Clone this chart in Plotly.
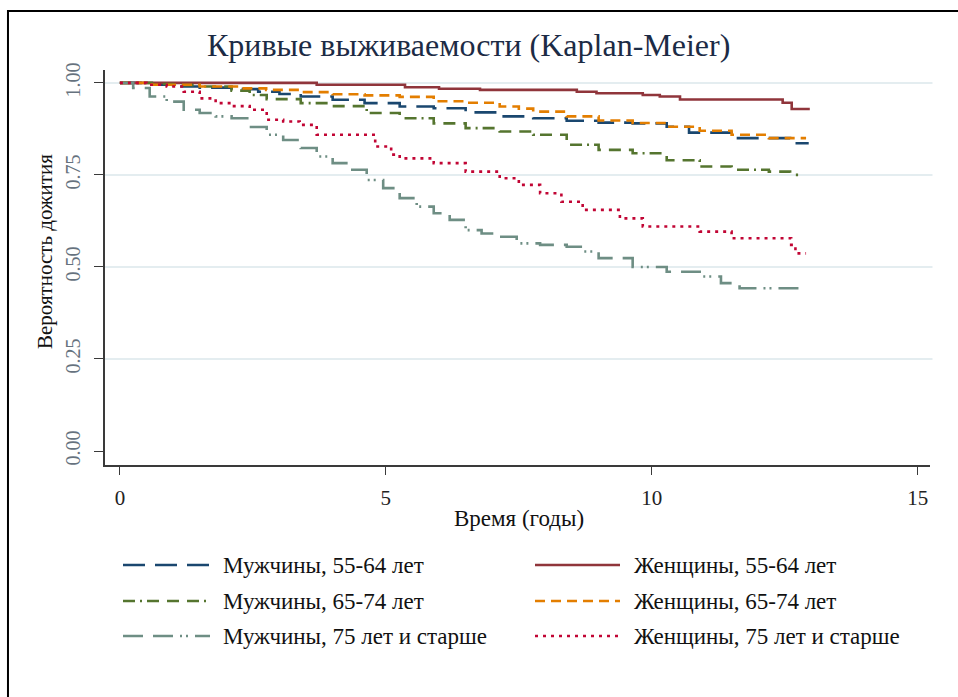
import plotly.graph_objects as go

# Kaplan-Meier step estimates (time in years, survival probability)
t_m55 = [0, 0.5, 1.0, 1.5, 2.1, 2.6, 3.0, 3.4, 4.0, 4.6, 5.26, 5.9, 6.5, 7.14, 7.77, 8.4, 9.0, 9.64, 10.28, 10.7, 11.5, 12.2, 12.6, 12.95]
s_m55 = [1.0, 0.995, 0.99, 0.987, 0.983, 0.976, 0.97, 0.963, 0.954, 0.945, 0.936, 0.931, 0.92, 0.909, 0.904, 0.897, 0.892, 0.89, 0.881, 0.865, 0.85, 0.85, 0.836, 0.836]

t_w55 = [0, 3.7, 5.36, 6.0, 6.77, 8.59, 8.96, 9.83, 10.15, 10.53, 12.46, 12.63, 12.97]
s_w55 = [1.0, 0.995, 0.988, 0.984, 0.981, 0.976, 0.972, 0.967, 0.963, 0.955, 0.946, 0.929, 0.929]

t_m65 = [0, 0.6, 1.0, 1.5, 2.1, 2.44, 2.76, 3.4, 4.0, 4.64, 5.26, 5.9, 6.5, 7.14, 7.77, 8.4, 9.0, 9.64, 10.28, 10.9, 11.5, 12.2, 12.6, 12.75]
s_m65 = [1.0, 0.997, 0.994, 0.99, 0.979, 0.967, 0.956, 0.945, 0.937, 0.918, 0.904, 0.89, 0.877, 0.868, 0.859, 0.832, 0.818, 0.809, 0.79, 0.773, 0.764, 0.759, 0.75, 0.75]

t_w65 = [0, 0.6, 1.5, 2.2, 2.75, 3.4, 4.0, 4.6, 5.26, 5.9, 6.5, 7.14, 7.5, 7.77, 8.4, 9.0, 9.64, 10.28, 10.9, 11.5, 12.2, 12.9]
s_w65 = [1.0, 0.995, 0.99, 0.985, 0.981, 0.975, 0.969, 0.966, 0.962, 0.95, 0.946, 0.936, 0.93, 0.922, 0.909, 0.898, 0.891, 0.881, 0.87, 0.859, 0.85, 0.85]

t_m75 = [0, 0.25, 0.56, 0.88, 1.2, 1.5, 1.8, 2.1, 2.44, 2.76, 3.07, 3.4, 3.7, 4.0, 4.3, 4.64, 4.95, 5.26, 5.58, 5.9, 6.2, 6.5, 6.8, 7.14, 7.46, 7.9, 8.4, 8.7, 9.0, 9.64, 10.28, 10.9, 11.3, 11.65, 12.9]
s_m75 = [1.0, 0.986, 0.963, 0.949, 0.927, 0.918, 0.909, 0.904, 0.88, 0.859, 0.845, 0.823, 0.8, 0.782, 0.764, 0.736, 0.714, 0.687, 0.664, 0.646, 0.628, 0.6, 0.591, 0.582, 0.564, 0.56, 0.555, 0.542, 0.524, 0.5, 0.487, 0.474, 0.456, 0.442, 0.442]

t_w75 = [0, 0.5, 0.88, 1.2, 1.5, 1.8, 2.1, 2.44, 2.76, 3.07, 3.38, 3.7, 4.8, 5.1, 5.26, 5.9, 6.5, 7.14, 7.5, 7.9, 8.3, 8.7, 9.4, 9.83, 10.9, 11.5, 12.62, 12.7, 12.9]
s_w75 = [1.0, 0.995, 0.99, 0.976, 0.958, 0.945, 0.937, 0.927, 0.9, 0.895, 0.886, 0.859, 0.827, 0.805, 0.795, 0.782, 0.759, 0.741, 0.723, 0.7, 0.677, 0.655, 0.632, 0.61, 0.596, 0.578, 0.56, 0.537, 0.537]

series_names = [
    "Мужчины, 55-64 лет", "Женщины, 55-64 лет",
    "Мужчины, 65-74 лет", "Женщины, 65-74 лет",
    "Мужчины, 75 лет и старше", "Женщины, 75 лет и старше",
]
series_t = [t_m55, t_w55, t_m65, t_w65, t_m75, t_w75]
series_s = [s_m55, s_w55, s_m65, s_w65, s_m75, s_w75]
colors = ["#1a476f", "#90353b", "#55752f", "#e37e00", "#6e8e84", "#c10534"]
dashes = ["22px,10px", "solid", "12px,5px,2px,5px,12px,8px,12px,8px", "10px,6px",
          "20px,10px,20px,7px,2px,4px,2px,7px", "3px,5px"]

x_ticks = [0, 5, 10, 15]
y_ticks = [0.0, 0.25, 0.5, 0.75, 1.0]
y_ticktext = ["0.00", "0.25", "0.50", "0.75", "1.00"]
grid_vals = [0.25, 0.5, 0.75, 1.0]

SERIF = "Liberation Serif"

fig = go.Figure()
for name, tt, ss, c, d in zip(series_names, series_t, series_s, colors, dashes):
    fig.add_trace(go.Scatter(x=tt, y=ss, mode="lines", name=name, line_shape="hv",
                             line=dict(color=c, width=2.6, dash=d), showlegend=False))

shapes = []
# horizontal grid
for g in grid_vals:
    shapes.append(dict(type="line", xref="paper", yref="y", x0=0, x1=1.003, y0=g, y1=g,
                       line=dict(color="#e4edf0", width=2), layer="below"))
# outer frame
shapes.append(dict(type="rect", xref="paper", yref="paper", x0=-0.1176, x1=1.05, y0=-0.62, y1=1.1494,
                   line=dict(color="#000000", width=2), fillcolor="rgba(0,0,0,0)"))

annotations = []
# manual legend, two columns
L, PW, PH = 105, 825, 395
def px_x(p):
    return (p - L) / PW
def px_y(p):
    return (465 - p) / PH

rows = [565, 601, 636]
cols = [(123, 210, 221), (535, 620, 632)]
for i, (name, c, d) in enumerate(zip(series_names, colors, dashes)):
    r = rows[i // 2]
    x0, x1, xt = cols[i % 2]
    shapes.append(dict(type="line", xref="paper", yref="paper",
                       x0=px_x(x0), x1=px_x(x1), y0=px_y(r), y1=px_y(r),
                       line=dict(color=c, width=2.6, dash=d)))
    annotations.append(dict(xref="paper", yref="paper", x=px_x(xt), y=px_y(r),
                            text=name, showarrow=False, xanchor="left", yanchor="middle",
                            font=dict(family=SERIF, size=23, color="#111111")))

# title and axis titles
annotations.append(dict(xref="paper", yref="paper", x=px_x(468), y=px_y(45),
                        text="Кривые выживаемости (Kaplan-Meier)", showarrow=False,
                        xanchor="center", yanchor="middle",
                        font=dict(family=SERIF, size=32, color="#1c2b45")))
annotations.append(dict(xref="paper", yref="paper", x=px_x(519), y=px_y(518),
                        text="Время (годы)", showarrow=False, xanchor="center", yanchor="middle",
                        font=dict(family=SERIF, size=23, color="#111111")))
annotations.append(dict(xref="paper", yref="paper", x=px_x(45), y=px_y(252),
                        text="Вероятность дожития", showarrow=False, textangle=-90,
                        xanchor="center", yanchor="middle",
                        font=dict(family=SERIF, size=21, color="#111111")))

fig.update_layout(
    width=958, height=697,
    margin=dict(l=105, r=28, t=70, b=232),
    paper_bgcolor="white", plot_bgcolor="white",
    shapes=shapes, annotations=annotations,
    xaxis=dict(range=[-0.28, 15.23], tickvals=x_ticks, showgrid=False, zeroline=False,
               showline=True, linecolor="#3a3a3a", linewidth=1.6,
               ticks="outside", ticklen=8, tickwidth=1.4, tickcolor="#3a3a3a",
               tickfont=dict(family=SERIF, size=21, color="#222222"), ticklabelstandoff=5),
    yaxis=dict(range=[-0.038, 1.035], tickvals=y_ticks, ticktext=y_ticktext, tickangle=-90,
               showgrid=False, zeroline=False,
               showline=True, linecolor="#3a3a3a", linewidth=1.6,
               ticks="outside", ticklen=9, tickwidth=1.4, tickcolor="#3a3a3a",
               tickfont=dict(family=SERIF, size=20, color="#66727e"), ticklabelstandoff=6),
)

fig.write_html("out.html")
